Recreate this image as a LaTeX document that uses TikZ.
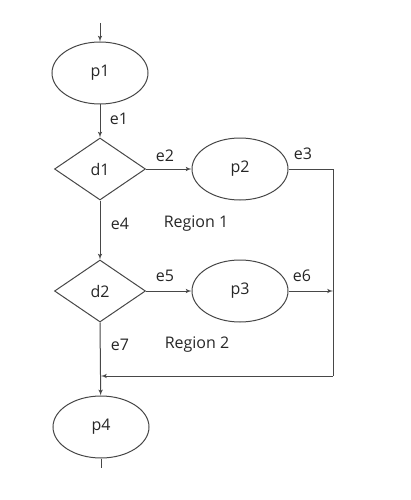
\documentclass[tikz,border=0pt]{standalone}
\usepackage{fontspec}
\setmainfont{Open Sans}
\usepackage{tikz}
\usetikzlibrary{arrows,shapes.geometric}

\begin{document}
\begin{tikzpicture}[x=1pt,y=-1pt,
  line width=1pt, draw=black!72, text=black!85,
  every node/.style={font=\fontsize{16}{19}\selectfont},
  proc/.style={ellipse,draw=black!72,minimum width=96pt,minimum height=62pt,inner sep=0pt},
  dec/.style={diamond,draw=black!72,minimum width=91pt,minimum height=62pt,inner sep=0pt}]
\useasboundingbox (0,0) rectangle (410,500);
\node[proc] (p1) at (100,73) {p1};
\node[dec] (d1) at (100,169) {d1};
\node[proc] (p2) at (240,169) {p2};
\node[dec] (d2) at (100,291) {d2};
\node[proc] (p3) at (240,291) {p3};
\node[proc] (p4) at (101,427) {p4};
\coordinate (in) at (100,23);
\coordinate (out) at (101,468);
\coordinate (r3) at (333,169);
\coordinate (r6) at (333,291);
\coordinate (r8) at (333,376);
\coordinate (join) at (101,376);
\draw[-latex'] (in) -- (p1);
\draw[-latex'] (p1) -- (d1);
\draw[-latex'] (d1) -- (p2);
\draw (p2) -- (r3) -- (r8);
\draw[-latex'] (r8) -- (join);
\draw[-latex'] (d1) -- (d2);
\draw[-latex'] (d2) -- (p3);
\draw[-latex'] (p3) -- (r6);
\draw[-latex'] (d2.south) -- (p4);
\draw (p4) -- (out);
\node (e1) at (119,119) {e1};
\node (e2) at (165,156) {e2};
\node (e3) at (303,154) {e3};
\node (e4) at (120,224) {e4};
\node (reg1) at (196,224) {Region 1};
\node (e5) at (165,276) {e5};
\node (e6) at (302,276) {e6};
\node (e7) at (120,345) {e7};
\node (reg2) at (197,345) {Region 2};
\end{tikzpicture}
\end{document}
